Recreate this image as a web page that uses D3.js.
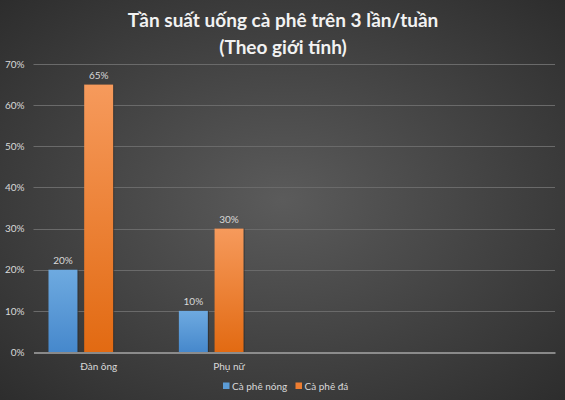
<!DOCTYPE html>
<html>
<head>
<meta charset="utf-8">
<script src="https://cdn.jsdelivr.net/npm/d3@7"></script>
<style>
  html, body { margin: 0; padding: 0; background: #3a3a3a; }
  svg { display: block; }
  text { font-family: Lato, "Open Sans", "Noto Sans", sans-serif; }
</style>
</head>
<body>
<div id="chart"></div>
<script>
(function () {
    'use strict';

    // chart data
    var titleLines = ['Tần suất uống cà phê trên 3 lần/tuần', '(Theo giới tính)'];
    var categories = ['Đàn ông', 'Phụ nữ', '', ''];
    var seriesNames = ['Cà phê nóng', 'Cà phê đá', ''];
    var hotValues = [0.20, 0.10, null, null];
    var icedValues = [0.65, 0.30, null, null];
    var emptyValues = [null, null, null, null];
    var yTicks = [0, 0.1, 0.2, 0.3, 0.4, 0.5, 0.6, 0.7];

    var width = 565,
        height = 400,
        margin = {top: 64, right: 10, bottom: 48, left: 33.5};

    var svg = d3.select('#chart')
        .append('svg')
        .attr('width', width)
        .attr('height', height);

    var defs = svg.append('defs');

    var bg = defs.append('radialGradient')
        .attr('id', 'bg')
        .attr('cx', '50%').attr('cy', '50%').attr('r', '72%');
    bg.append('stop').attr('offset', '0%').attr('stop-color', '#5b5b5b');
    bg.append('stop').attr('offset', '100%').attr('stop-color', '#2c2c2c');

    // top light, bottom dark like the office bar fill
    var fills = [['#6eaae0', '#4688cc'], ['#f69a5c', '#e26a12'], ['#999', '#777']];
    fills.forEach(function (f, i) {
        var g = defs.append('linearGradient')
            .attr('id', 'bar' + i)
            .attr('x1', 0).attr('y1', 0).attr('x2', 0).attr('y2', 1);
        g.append('stop').attr('offset', '0%').attr('stop-color', f[0]);
        g.append('stop').attr('offset', '100%').attr('stop-color', f[1]);
    });

    svg.append('rect')
        .attr('width', width)
        .attr('height', height)
        .attr('fill', 'url(#bg)');

    // title
    svg.selectAll('text.title')
        .data(titleLines)
        .enter()
        .append('text')
        .attr('class', 'title')
        .attr('x', width / 2 + 0.5)
        .attr('y', function (d, i) { return 27 + i * 26.5; })
        .attr('text-anchor', 'middle')
        .attr('fill', '#f2f2f2')
        .attr('font-size', 19)
        .attr('font-weight', 'bold')
        .text(function (d) { return d; });

    var plotW = width - margin.left - margin.right,
        plotH = height - margin.top - margin.bottom;

    var x0 = d3.scaleBand()
        .domain(d3.range(categories.length))
        .range([margin.left, margin.left + plotW])
        .padding(0);

    var x1 = d3.scaleBand()
        .domain(d3.range(seriesNames.length))
        .range([0, x0.bandwidth()])
        .paddingInner(0.188)
        .paddingOuter(0.42);

    var y = d3.scaleLinear()
        .domain([0, 0.7])
        .range([margin.top + plotH, margin.top]);

    // gridlines
    svg.append('g')
        .selectAll('line')
        .data(yTicks.slice(1))
        .enter()
        .append('line')
        .attr('x1', margin.left)
        .attr('x2', margin.left + plotW)
        .attr('y1', function (d) { return Math.round(y(d)) + 0.5; })
        .attr('y2', function (d) { return Math.round(y(d)) + 0.5; })
        .attr('stroke', '#6a6a6a')
        .attr('stroke-width', 1);

    // y axis labels
    var yAxis = d3.axisLeft(y)
        .tickValues(yTicks)
        .tickFormat(d3.format('.0%'))
        .tickSize(0)
        .tickPadding(9);

    var yg = svg.append('g')
        .attr('transform', 'translate(' + margin.left + ',0)')
        .call(yAxis);
    yg.select('.domain').remove();
    yg.selectAll('text')
        .attr('fill', '#d9d9d9')
        .attr('font-size', 10);

    // bars
    var series = [hotValues, icedValues, emptyValues];
    var rows = [];
    series.forEach(function (vals, s) {
        vals.forEach(function (v, c) {
            if (v != null) {
                rows.push({s: s, c: c, v: v});
            }
        });
    });

    var bars = svg.append('g');

    // small dark edge on the right side of each bar
    bars.selectAll('rect.shadow')
        .data(rows)
        .enter()
        .append('rect')
        .attr('class', 'shadow')
        .attr('x', function (d) { return x0(d.c) + x1(d.s) + 1; })
        .attr('y', function (d) { return y(d.v); })
        .attr('width', x1.bandwidth())
        .attr('height', function (d) { return y(0) - y(d.v); })
        .attr('fill', '#262626')
        .attr('opacity', 0.6);

    bars.selectAll('rect.bar')
        .data(rows)
        .enter()
        .append('rect')
        .attr('class', 'bar')
        .attr('x', function (d) { return x0(d.c) + x1(d.s); })
        .attr('y', function (d) { return y(d.v); })
        .attr('width', x1.bandwidth())
        .attr('height', function (d) { return y(0) - y(d.v); })
        .attr('fill', function (d) { return 'url(#bar' + d.s + ')'; });

    bars.selectAll('text')
        .data(rows)
        .enter()
        .append('text')
        .attr('x', function (d) { return x0(d.c) + x1(d.s) + x1.bandwidth() / 2; })
        .attr('y', function (d) { return y(d.v) - 6; })
        .attr('text-anchor', 'middle')
        .attr('fill', '#d9d9d9')
        .attr('font-size', 10)
        .text(function (d) { return d3.format('.0%')(d.v); });

    // x axis
    var xAxis = d3.axisBottom(x0)
        .tickFormat(function (i) { return categories[i]; })
        .tickSize(0)
        .tickPadding(10);

    var xg = svg.append('g')
        .attr('transform', 'translate(0,' + (Math.round(y(0)) + 0.5) + ')')
        .call(xAxis);
    xg.select('.domain')
        .attr('stroke', '#a6a6a6')
        .attr('stroke-width', 1.5);
    xg.selectAll('text')
        .attr('fill', '#d9d9d9')
        .attr('font-size', 10);

    // legend
    var legendItems = [
        {name: seriesNames[0], color: '#5b9bd5', x: 223},
        {name: seriesNames[1], color: '#ed7d31', x: 295.5}
    ];
    var lg = svg.append('g')
        .selectAll('g')
        .data(legendItems)
        .enter()
        .append('g')
        .attr('transform', function (d) { return 'translate(' + d.x + ',386)'; });
    lg.append('rect')
        .attr('x', 0)
        .attr('y', -3.5)
        .attr('width', 6.5)
        .attr('height', 6.5)
        .attr('fill', function (d) { return d.color; });
    lg.append('text')
        .attr('x', 9)
        .attr('y', 3.5)
        .attr('fill', '#d9d9d9')
        .attr('font-size', 10)
        .text(function (d) { return d.name; });

})();
</script>
</body>
</html>
